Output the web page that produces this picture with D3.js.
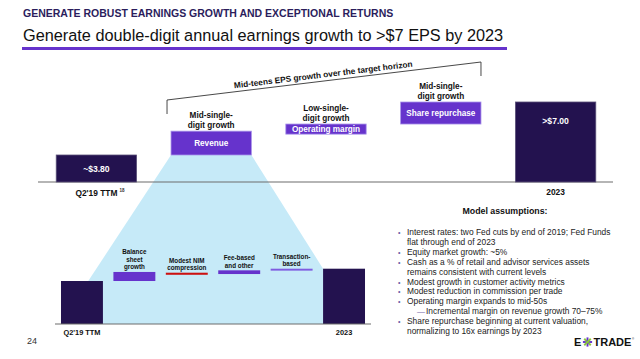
<!DOCTYPE html>
<html>
  <head>
    <meta charset="UTF-8">
    <script src="https://d3js.org/d3.v7.min.js" charset="utf-8"></script>
    <title>E*TRADE EPS bridge</title>
    <style>
      body { margin: 0; background: #fff; }
      svg { display: block; font-family: "Liberation Sans", Arial, sans-serif; }
    </style>
  </head>
  <body>
    <svg class="chart"></svg>
    <script type="text/javascript">

     var width = 640,
         height = 359;

     // EPS bridge (top)
     var epsCats = ["Q2'19 TTM", "Revenue", "Operating margin", "Share repurchase", "2023"];
     var epsLow = [0, 3.80, 5.06, 5.67, 0];
     var epsHigh = [3.80, 5.24, 5.67, 7.00, 7.00];
     var epsText = ["~$3.80", "Revenue", "Operating margin", "Share repurchase", ">$7.00"];
     var epsNotes = [[], ["Mid-single-", "digit growth"], ["Low-single-", "digit growth"], ["Mid-single-", "digit growth"], []];

     // revenue bridge (bottom)
     var revCats = ["Q2'19 TTM", "Balance sheet growth", "Modest NIM compression", "Fee-based and other", "Transaction-based", "2023"];
     var revLow = [0, 2.90, 3.32, 3.37, 3.60, 0];
     var revHigh = [2.90, 3.51, 3.46, 3.62, 3.73, 3.73];
     var revNotes = [[], ["Balance", "sheet", "growth"], ["Modest NIM", "compression"], ["Fee-based", "and other"], ["Transaction-", "based"], []];

     var assumptions = [
         ["b", "Interest rates: two Fed cuts by end of 2019; Fed Funds"],
         ["c", "flat through end of 2023"],
         ["b", "Equity market growth: ~5%"],
         ["b", "Cash as a % of retail and advisor services assets"],
         ["c", "remains consistent with current levels"],
         ["b", "Modest growth in customer activity metrics"],
         ["b", "Modest reduction in commission per trade"],
         ["b", "Operating margin expands to mid-50s"],
         ["s", "Incremental margin on revenue growth 70\u201375%"],
         ["b", "Share repurchase beginning at current valuation,"],
         ["c", "normalizing to 16x earnings by 2023"]
     ];

     var navy = "#23124f",
         purple = "#6633cc";

     var svg = d3.select(".chart")
                 .attr("width", width)
                 .attr("height", height);

     svg.append("text")
        .attr("x", 23).attr("y", 17)
        .attr("font-size", 10.5).attr("font-weight", "bold")
        .attr("fill", "#2b1d5c")
        .text("GENERATE ROBUST EARNINGS GROWTH AND EXCEPTIONAL RETURNS");

     svg.append("text")
        .attr("x", 23).attr("y", 41)
        .attr("font-size", 16.3)
        .attr("fill", "#111")
        .text("Generate double-digit annual earnings growth to >$7 EPS by 2023");

     svg.append("rect")
        .attr("x", 22).attr("y", 47)
        .attr("width", 485).attr("height", 3)
        .attr("fill", purple);

     var xTop = d3.scaleBand()
                  .domain(epsCats)
                  .range([39, 613])
                  .paddingInner(0.3)
                  .paddingOuter(0.15);

     // axis is cut off below ~2.2
     var yTop = d3.scaleLinear()
                  .domain([2.17, 7.0])
                  .range([182, 102])
                  .clamp(true);

     var xBot = d3.scaleBand()
                  .domain(revCats)
                  .range([55.75, 370.25])
                  .paddingInner(0.2)
                  .paddingOuter(0.1);

     var yBot = d3.scaleLinear()
                  .domain([0, 4])
                  .range([324, 264.7]);

     var topColor = d3.scaleOrdinal()
                      .domain(epsCats)
                      .range([navy, purple, purple, purple, navy]);

     var botColor = d3.scaleOrdinal()
                      .domain(revCats)
                      .range([navy, purple, "#cc1111", purple, "#7f5ce0", navy]);

     // light blue funnel from the revenue box down to the revenue bridge
     var r0 = xTop("Revenue"),
         r1 = r0 + xTop.bandwidth(),
         lx = xBot(revCats[0]) + xBot.bandwidth() * 0.65,
         rx = xBot(revCats[5]);
     var funnel = [
         [r0, yTop(epsLow[1])], [r1, yTop(epsLow[1])],
         [rx, yBot(revHigh[5])], [rx, yBot(0)],
         [lx, yBot(0)], [lx, yBot(revHigh[0])]
     ];
     svg.append("path")
        .attr("d", d3.line()(funnel) + "Z")
        .attr("fill", "#c6eaf8");

     // top bridge
     var topG = svg.append("g");

     topG.append("line")
         .attr("x1", 38).attr("x2", 613)
         .attr("y1", yTop(0)).attr("y2", yTop(0))
         .attr("stroke", "#6d6d6d").attr("stroke-width", 1.2);

     topG.selectAll("rect")
         .data(epsCats)
         .enter().append("rect")
         .attr("x", function(d) { return xTop(d); })
         .attr("y", function(d, i) { return yTop(epsHigh[i]); })
         .attr("width", xTop.bandwidth())
         .attr("height", function(d, i) { return yTop(epsLow[i]) - yTop(epsHigh[i]); })
         .attr("fill", function(d) { return topColor(d); })
         .attr("stroke", function(d, i) { return epsLow[i] > 0 ? "#a994ea" : "#5a5078"; })
         .attr("stroke-width", 0.8);

     topG.selectAll("text.val")
         .data(epsCats)
         .enter().append("text")
         .attr("class", "val")
         .attr("x", function(d) { return xTop(d) + xTop.bandwidth() / 2; })
         .attr("y", function(d, i) {
             var t = yTop(epsHigh[i]), b = yTop(epsLow[i]);
             return t + Math.min((b - t) / 2 + 3, 22);
         })
         .attr("text-anchor", "middle")
         .attr("font-size", function(d, i) { return epsLow[i] > 0 ? 8.2 : 8.6; })
         .attr("font-weight", "bold")
         .attr("fill", "#fff")
         .text(function(d, i) { return epsText[i]; });

     epsCats.forEach(function(c, i) {
         var n = epsNotes[i].length;
         epsNotes[i].forEach(function(s, j) {
             topG.append("text")
                 .attr("x", xTop(c) + xTop.bandwidth() / 2)
                 .attr("y", yTop(epsHigh[i]) - 3 - (n - 1 - j) * 10.5)
                 .attr("text-anchor", "middle")
                 .attr("font-size", 8.2).attr("font-weight", "bold")
                 .attr("fill", "#111")
                 .text(s);
         });
     });

     topG.append("text")
         .attr("x", xTop(epsCats[0]) + xTop.bandwidth() / 2)
         .attr("y", 196)
         .attr("text-anchor", "middle")
         .attr("font-size", 8.4).attr("font-weight", "bold")
         .attr("fill", "#111")
         .text(epsCats[0]);
     topG.append("text")
         .attr("x", xTop(epsCats[0]) + xTop.bandwidth() / 2 + 23)
         .attr("y", 192)
         .attr("font-size", 4.5).attr("font-weight", "bold")
         .attr("fill", "#333")
         .text("18");

     topG.append("text")
         .attr("x", xTop(epsCats[4]) + xTop.bandwidth() / 2)
         .attr("y", 195)
         .attr("text-anchor", "middle")
         .attr("font-size", 8.4).attr("font-weight", "bold")
         .attr("fill", "#111")
         .text(epsCats[4]);

     // bracket over the three drivers
     var bx0 = xTop("Revenue") - 4,
         bx1 = xTop("Share repurchase") + xTop.bandwidth(),
         by0 = 100, by1 = 62;
     topG.append("path")
         .attr("d", "M" + bx0 + "," + (by0 + 14) + "L" + bx0 + "," + by0 +
                    "L" + bx1 + "," + by1 + "L" + bx1 + "," + (by1 + 14))
         .attr("fill", "none")
         .attr("stroke", "#333").attr("stroke-width", 0.9);

     var ang = Math.atan2(by1 - by0, bx1 - bx0) * 180 / Math.PI;
     topG.append("text")
         .attr("transform", "translate(" + ((bx0 + bx1) / 2) + "," + ((by0 + by1) / 2) + ") rotate(" + ang + ")")
         .attr("y", -3.5)
         .attr("text-anchor", "middle")
         .attr("font-size", 8.3).attr("font-weight", "bold")
         .attr("fill", "#111")
         .text("Mid-teens EPS growth over the target horizon");

     // bottom bridge
     var botG = svg.append("g");

     botG.selectAll("rect")
         .data(revCats)
         .enter().append("rect")
         .attr("x", function(d) { return xBot(d); })
         .attr("y", function(d, i) { return yBot(revHigh[i]); })
         .attr("width", xBot.bandwidth())
         .attr("height", function(d, i) { return yBot(revLow[i]) - yBot(revHigh[i]); })
         .attr("fill", function(d) { return botColor(d); });

     botG.append("line")
         .attr("x1", 55).attr("x2", 371)
         .attr("y1", yBot(0)).attr("y2", yBot(0))
         .attr("stroke", "#6d6d6d").attr("stroke-width", 1.2);

     revCats.forEach(function(c, i) {
         var n = revNotes[i].length;
         revNotes[i].forEach(function(s, j) {
             botG.append("text")
                 .attr("x", xBot(c) + xBot.bandwidth() / 2)
                 .attr("y", yBot(revHigh[i]) - 2.5 - (n - 1 - j) * 7.5)
                 .attr("text-anchor", "middle")
                 .attr("font-size", 6.3).attr("font-weight", "bold")
                 .attr("fill", "#111")
                 .text(s);
         });
     });

     [0, 5].forEach(function(i) {
         botG.append("text")
             .attr("x", xBot(revCats[i]) + xBot.bandwidth() / 2)
             .attr("y", 335)
             .attr("text-anchor", "middle")
             .attr("font-size", 7.4).attr("font-weight", "bold")
             .attr("fill", "#111")
             .text(revCats[i]);
     });

     // model assumptions
     var notes = svg.append("g");
     notes.append("text")
          .attr("x", 505).attr("y", 214)
          .attr("text-anchor", "middle")
          .attr("font-size", 8.8).attr("font-weight", "bold")
          .attr("fill", "#111")
          .text("Model assumptions:");

     assumptions.forEach(function(a, i) {
         var y = 235 + i * 9.9;
         if (a[0] == "b") {
             notes.append("text").attr("x", 398).attr("y", y)
                  .attr("font-size", 7).attr("fill", "#6b5ca5").text("\u2022");
         }
         if (a[0] == "s") {
             notes.append("text").attr("x", 417).attr("y", y)
                  .attr("font-size", 8).attr("fill", "#6b5ca5").text("\u2014");
         }
         notes.append("text")
              .attr("x", a[0] == "s" ? 426 : 407).attr("y", y)
              .attr("font-size", 8.4).attr("fill", "#222")
              .text(a[1]);
     });

     // footer
     svg.append("text")
        .attr("x", 27).attr("y", 344)
        .attr("font-size", 9).attr("fill", "#333")
        .text("24");

     var logo = svg.append("g").attr("transform", "translate(574,346)");
     logo.append("text")
         .attr("font-size", 11).attr("font-weight", "bold").attr("fill", "#111")
         .text("E");
     logo.append("text")
         .attr("x", 19.5)
         .attr("font-size", 11).attr("font-weight", "bold").attr("fill", "#111")
         .text("TRADE");
     [0, 45, 90, 135].forEach(function(a, i) {
         logo.append("line")
             .attr("transform", "translate(13.5,-4) rotate(" + a + ")")
             .attr("x1", -4.6).attr("x2", 4.6)
             .attr("stroke", i % 2 ? "#8cc63f" : purple)
             .attr("stroke-width", 1.9);
     });
     logo.append("text")
         .attr("x", 58).attr("y", -6)
         .attr("font-size", 3).attr("fill", "#111")
         .text("\u00ae");

    </script>
  </body>
</html>
